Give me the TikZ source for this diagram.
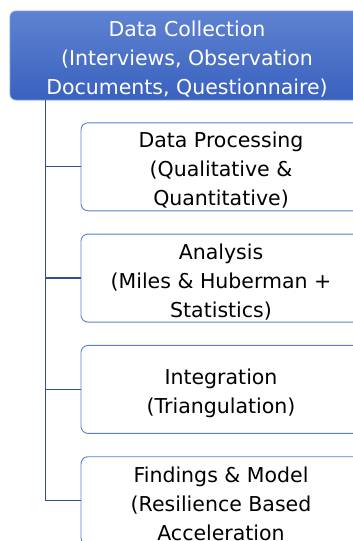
\documentclass[tikz,border=0pt]{standalone}
\usepackage{fontspec}
\setmainfont{DejaVu Sans}
\usepackage{tikz}
\usepackage{color}

\definecolor{headtop}{RGB}{95,131,210}
\definecolor{headbot}{RGB}{57,97,190}
\definecolor{headrim}{RGB}{125,155,218}
\definecolor{boxrim}{RGB}{86,128,204}
\definecolor{linkblue}{RGB}{47,80,148}

% extra room above the first line, pushes the text block down a bit
\newcommand{\topgap}{\rule{0pt}{22.5pt}}

\begin{document}
\begin{tikzpicture}[semithick,node distance=111.3pt]
  \tikzstyle{head}=[rounded corners=6pt,draw=headrim,line width=0.8pt,
                    top color=headtop,bottom color=headbot,text=white,
                    minimum width=354pt,minimum height=89pt,inner sep=0pt,
                    align=center,font=\fontsize{20.5}{29}\selectfont]
  \tikzstyle{stage}=[rounded corners=7pt,draw=boxrim,line width=0.9pt,fill=white,
                     text=black,minimum width=280pt,minimum height=88pt,inner sep=0pt,
                     align=center,font=\fontsize{20.5}{29}\selectfont]
  \tikzstyle{link}=[draw=linkblue,line width=1.3pt]

  \useasboundingbox (0,0) rectangle (353pt,-541pt);

  \node[head]  (collect) at (187pt,-55.5pt)
        {\topgap Data Collection\\(Interviews, Observation\\Documents, Questionnaire)};
  \node[stage] (proc)  [below of=collect, xshift=34pt]
        {\topgap Data Processing\\(Qualitative \&\\Quantitative)};
  \node[stage] (anal)  [below of=proc]
        {\topgap Analysis\\(Miles \& Huberman +\\Statistics)};
  \node[stage] (integ) [below of=anal]
        {\topgap Integration\\(Triangulation)};
  \node[stage] (find)  [below of=integ]
        {\topgap Findings \& Model\\(Resilience Based\\Acceleration};

  \coordinate (spine) at (45.5pt,0);

  \draw[link] (spine |- collect.south) |- (proc.west)
              (spine |- collect.south) |- (anal.west)
              (spine |- collect.south) |- (integ.west)
              (spine |- collect.south) |- (find.west);

\end{tikzpicture}
\end{document}
